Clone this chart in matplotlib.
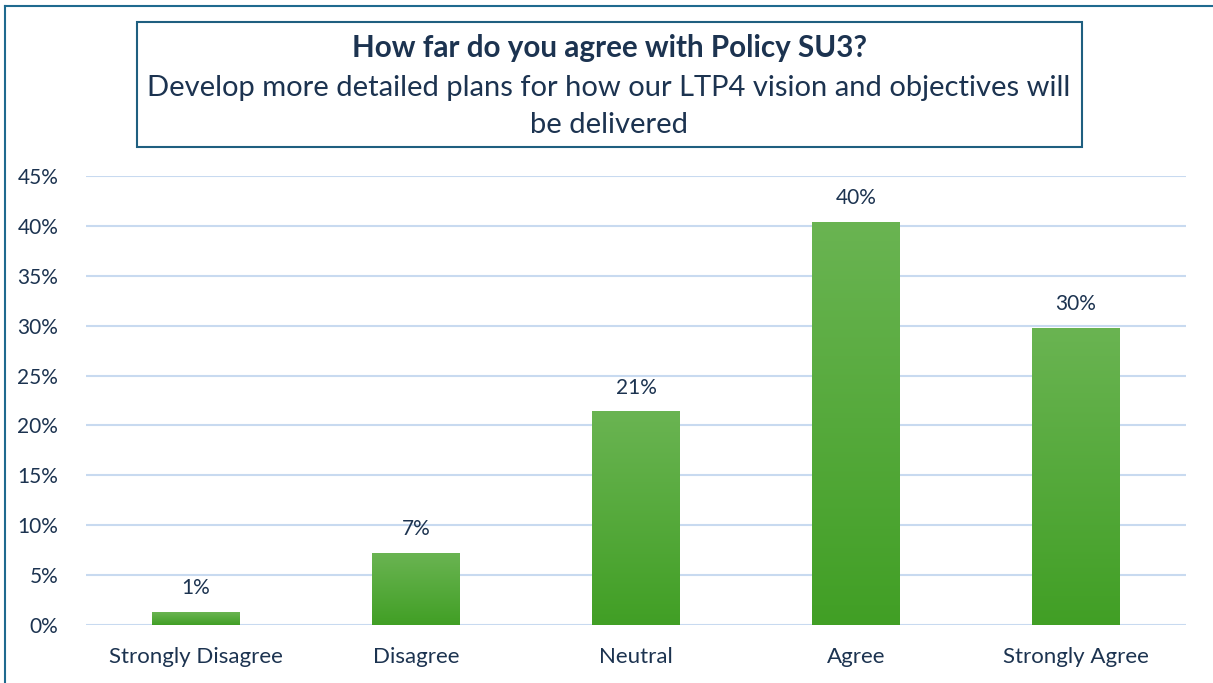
import numpy as np
import matplotlib.pyplot as plt
from matplotlib.lines import Line2D
from matplotlib.colors import LinearSegmentedColormap

categories = ['Strongly Disagree', 'Disagree', 'Neutral', 'Agree', 'Strongly Agree']
shares = [1.3, 7.2, 21.4, 40.4, 29.8]
yticks = [0, 5, 10, 15, 20, 25, 30, 35, 40, 45]

title = 'How far do you agree with Policy SU3?'
subtitle = ['Develop more detailed plans for how our LTP4 vision and objectives will',
            'be delivered']

plt.rcParams['font.family'] = ['Lato', 'DejaVu Sans']
txt = '#1c3350'
W, H = 1213, 683

fig = plt.figure(figsize=(W / 100, H / 100), dpi=100)
ax = fig.add_axes([86 / W, 1 - 625 / H, 1100 / W, 449 / H])

x = np.arange(len(categories))
bars = ax.bar(x, shares, width=0.4, color='none', edgecolor='none', zorder=3)

# vertical green gradient, lighter at the top
cmap = LinearSegmentedColormap.from_list('g', ['#419f25', '#6ab452'])
grad = np.linspace(0, 1, 256).reshape(-1, 1)
for b in bars:
    x0, w, h = b.get_x(), b.get_width(), b.get_height()
    im = ax.imshow(grad, cmap=cmap, origin='lower', aspect='auto',
                   extent=[x0, x0 + w, 0, h], zorder=3)
    im.set_clip_path(b)
    ax.text(x0 + w / 2, h + 1.4, f'{h:.0f}%', ha='center', va='bottom',
            fontsize=15, color=txt)

ax.set_xlim(-0.5, len(categories) - 0.5)
ax.set_ylim(0, 45)
ax.set_yticks(yticks)
ax.set_yticklabels([f'{v}%' for v in yticks])
ax.set_xticks(x)
ax.set_xticklabels(categories)
ax.tick_params(length=0, labelsize=16, colors=txt)
ax.tick_params(axis='y', pad=20, labelsize=15)
ax.tick_params(axis='x', pad=16)
ax.grid(axis='y', color='#c8daf0', linewidth=1.5, zorder=0)
ax.set_axisbelow(True)
for s in ax.spines.values():
    s.set_visible(False)

# title box
fig.patches.append(plt.Rectangle((137 / W, 1 - 147 / H), 945 / W, 125 / H,
                                 transform=fig.transFigure, fill=False,
                                 edgecolor='#1f5f80', linewidth=1.5))
fig.text(609 / W, 1 - 48 / H, title, ha='center', va='center',
         fontsize=21.3, fontweight='bold', color=txt)
fig.text(609 / W, 1 - 88 / H, subtitle[0], ha='center', va='center',
         fontsize=21, color=txt)
fig.text(609 / W, 1 - 125 / H, subtitle[1], ha='center', va='center',
         fontsize=21, color=txt)

# outer frame on left and top edges
fig.lines.append(Line2D([5 / W, 5 / W], [0, 1 - 6 / H], transform=fig.transFigure,
                        color='#1f6a8f', linewidth=1.5))
fig.lines.append(Line2D([5 / W, 1], [1 - 6 / H, 1 - 6 / H], transform=fig.transFigure,
                        color='#1f6a8f', linewidth=1.5))

fig.savefig('out.png', dpi=100)
